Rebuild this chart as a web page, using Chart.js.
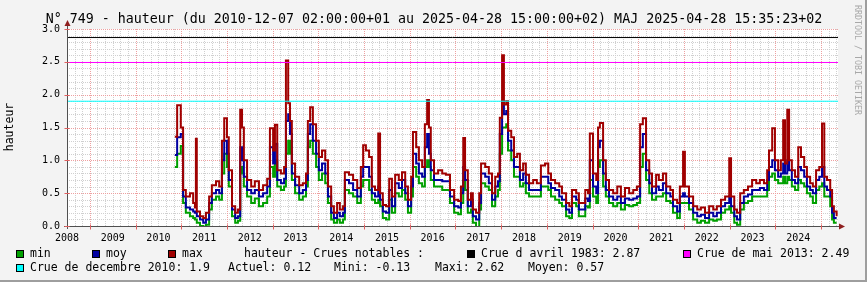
<!DOCTYPE html>
<html><head><meta charset="utf-8">
<script src="https://cdn.jsdelivr.net/npm/chart.js@4/dist/chart.umd.min.js"></script>
<style>html,body{margin:0;padding:0;background:#f3f3f3;overflow:hidden}canvas{display:block}</style>
</head><body>
<canvas id="c" width="867" height="282" style="width:867px;height:282px"></canvas>
<script>
// ---- data (decimal years) ----
const dates = [2010.36,2010.41,2010.49,2010.54,2010.60,2010.69,2010.76,2010.80,2010.82,2010.84,2010.91,2010.98,
2011.04,2011.11,2011.17,2011.26,2011.33,2011.39,2011.44,2011.50,2011.54,2011.61,2011.68,2011.74,2011.79,2011.83,2011.87,2011.94,
2012.03,2012.11,2012.20,2012.29,2012.38,2012.44,2012.51,2012.55,2012.60,2012.68,2012.75,2012.79,2012.84,2012.88,2012.92,2012.99,
2013.08,2013.16,2013.23,2013.27,2013.32,2013.38,2013.45,2013.51,2013.58,2013.65,2013.71,2013.78,2013.84,2013.91,2013.97,
2014.04,2014.08,2014.17,2014.26,2014.35,2014.43,2014.48,2014.54,2014.61,2014.67,2014.74,2014.81,2014.85,2014.91,2014.98,
2015.05,2015.11,2015.18,2015.26,2015.33,2015.40,2015.46,2015.53,2015.57,2015.64,2015.70,2015.77,2015.83,2015.88,2015.92,2015.96,
2016.03,2016.12,2016.21,2016.29,2016.38,2016.47,2016.56,2016.62,2016.67,2016.71,2016.77,2016.84,2016.88,2016.95,
2017.02,2017.06,2017.15,2017.23,2017.30,2017.37,2017.43,2017.47,2017.52,2017.56,2017.61,2017.65,2017.72,2017.78,2017.85,2017.91,2017.98,
2018.04,2018.11,2018.20,2018.28,2018.37,2018.46,2018.53,2018.59,2018.68,2018.77,2018.83,2018.92,2018.99,
2019.05,2019.14,2019.20,2019.27,2019.34,2019.40,2019.44,2019.51,2019.58,2019.62,2019.66,2019.73,2019.79,2019.86,2019.95,
2020.04,2020.12,2020.21,2020.30,2020.39,2020.47,2020.54,2020.60,2020.67,2020.74,2020.80,2020.89,2020.95,
2021.04,2021.11,2021.20,2021.26,2021.35,2021.41,2021.48,2021.52,2021.61,2021.70,2021.79,2021.87,2021.96,
2022.05,2022.14,2022.22,2022.31,2022.40,2022.49,2022.53,2022.60,2022.66,2022.73,2022.81,2022.90,2022.99,
2023.08,2023.16,2023.25,2023.32,2023.36,2023.43,2023.49,2023.56,2023.62,2023.67,2023.71,2023.76,2023.80,2023.86,2023.93,
2024.00,2024.06,2024.13,2024.19,2024.26,2024.32,2024.39,2024.46,2024.52,2024.57,2024.63,2024.70,2024.74,2024.78,2024.84];

const maxValues = [1.36,1.84,1.50,0.55,0.45,0.50,0.35,0.28,1.33,0.22,0.15,0.12,
0.20,0.45,0.62,0.68,0.60,1.30,1.64,1.35,0.85,0.30,0.20,0.25,1.77,1.50,1.00,0.70,
0.60,0.68,0.55,0.62,0.72,1.49,1.15,1.54,0.85,0.80,0.90,2.52,1.87,1.60,0.95,0.75,
0.62,0.65,0.80,1.60,1.81,1.55,1.30,1.05,1.15,1.00,0.60,0.30,0.20,0.35,0.25,
0.30,0.82,0.78,0.70,0.58,0.90,1.23,1.15,1.05,0.60,0.55,1.41,0.50,0.32,0.30,
0.72,0.45,0.78,0.70,0.82,0.60,0.40,0.75,1.43,1.20,1.00,0.90,1.55,1.92,1.50,1.00,
0.80,0.85,0.80,0.78,0.55,0.40,0.38,0.60,1.34,0.85,0.40,0.50,0.25,0.20,
0.50,0.95,0.90,0.80,0.50,0.75,0.80,1.65,2.60,1.85,1.90,1.45,1.35,1.05,1.10,0.85,0.95,
0.78,0.65,0.70,0.65,0.92,0.95,0.80,0.70,0.65,0.60,0.50,0.35,0.30,
0.55,0.50,0.35,0.35,0.55,0.50,1.41,0.80,0.70,1.50,1.57,1.00,0.70,0.55,0.50,
0.60,0.45,0.58,0.50,0.55,0.60,1.55,1.64,1.00,0.80,0.60,0.78,0.70,
0.80,0.60,0.55,0.40,0.35,0.60,1.13,0.60,0.45,0.30,0.25,0.28,0.20,
0.30,0.25,0.30,0.40,0.45,1.03,0.45,0.25,0.20,0.50,0.55,0.60,0.70,
0.65,0.70,0.65,0.85,1.15,1.49,1.00,0.85,1.00,1.61,0.95,1.77,1.00,0.85,0.75,
1.20,1.05,0.90,0.75,0.65,0.60,0.85,0.90,1.56,0.75,0.70,0.55,0.30,0.22,0.15];

const moyValues = [1.08,1.35,1.40,0.45,0.28,0.25,0.22,0.20,0.20,0.15,0.10,0.05,
0.10,0.35,0.50,0.55,0.50,1.00,1.30,1.10,0.70,0.25,0.12,0.15,1.20,1.00,0.75,0.55,
0.50,0.55,0.45,0.50,0.60,1.20,0.95,1.25,0.70,0.65,0.72,1.60,1.70,1.40,0.80,0.62,
0.50,0.55,0.70,1.40,1.55,1.30,1.10,0.85,0.95,0.80,0.45,0.20,0.12,0.20,0.15,
0.20,0.70,0.65,0.55,0.45,0.75,0.90,0.90,0.75,0.50,0.45,0.60,0.40,0.22,0.20,
0.55,0.30,0.65,0.58,0.70,0.50,0.30,0.60,1.10,0.95,0.80,0.75,1.20,1.40,1.10,0.85,
0.70,0.70,0.68,0.68,0.45,0.30,0.28,0.50,0.90,0.70,0.30,0.40,0.15,0.10,
0.35,0.80,0.75,0.65,0.40,0.60,0.68,1.40,1.90,1.70,1.75,1.30,1.15,0.90,0.90,0.70,0.80,
0.65,0.55,0.55,0.55,0.75,0.75,0.65,0.58,0.55,0.45,0.40,0.25,0.20,
0.45,0.40,0.25,0.25,0.42,0.38,1.00,0.60,0.50,1.20,1.30,0.80,0.55,0.45,0.40,
0.45,0.35,0.42,0.40,0.42,0.45,1.20,1.40,0.85,0.65,0.50,0.60,0.55,
0.65,0.50,0.45,0.30,0.22,0.45,0.50,0.45,0.35,0.20,0.15,0.17,0.12,
0.20,0.15,0.20,0.30,0.35,0.45,0.30,0.15,0.10,0.35,0.45,0.48,0.55,
0.55,0.58,0.55,0.70,0.90,1.00,0.85,0.75,0.80,0.95,0.80,1.00,0.85,0.70,0.65,
0.90,0.85,0.75,0.60,0.55,0.50,0.70,0.75,0.90,0.60,0.55,0.45,0.20,0.12,0.12];

const minValues = [0.90,1.10,1.22,0.35,0.20,0.15,0.12,0.10,0.10,0.05,0.00,-0.02,
0.02,0.25,0.40,0.45,0.40,0.80,1.10,0.90,0.60,0.15,0.05,0.08,0.90,0.80,0.60,0.45,
0.35,0.42,0.30,0.35,0.45,0.90,0.75,1.00,0.60,0.55,0.60,1.10,1.30,1.10,0.70,0.50,
0.40,0.45,0.60,1.20,1.30,1.10,0.90,0.70,0.80,0.65,0.35,0.10,0.05,0.10,0.05,
0.10,0.55,0.50,0.45,0.35,0.60,0.70,0.70,0.55,0.40,0.35,0.40,0.30,0.12,0.10,
0.40,0.20,0.50,0.45,0.55,0.40,0.20,0.45,0.90,0.75,0.65,0.60,0.90,1.00,0.90,0.70,
0.60,0.60,0.55,0.55,0.35,0.20,0.18,0.35,0.70,0.55,0.20,0.25,0.05,-0.05,
0.25,0.65,0.60,0.55,0.30,0.45,0.55,1.10,1.50,1.50,1.55,1.15,1.00,0.75,0.75,0.60,0.65,
0.50,0.45,0.45,0.45,0.60,0.60,0.55,0.45,0.40,0.35,0.30,0.15,0.12,
0.35,0.30,0.15,0.15,0.30,0.28,0.70,0.45,0.35,0.90,1.00,0.60,0.45,0.35,0.30,
0.35,0.25,0.32,0.30,0.32,0.35,0.90,1.10,0.70,0.50,0.40,0.45,0.45,
0.50,0.38,0.35,0.20,0.12,0.35,0.35,0.35,0.25,0.10,0.05,0.08,0.05,
0.10,0.08,0.10,0.20,0.25,0.30,0.20,0.05,0.02,0.25,0.35,0.38,0.45,
0.45,0.45,0.45,0.55,0.75,0.80,0.70,0.65,0.65,0.75,0.65,0.75,0.70,0.60,0.55,
0.70,0.65,0.60,0.50,0.45,0.35,0.55,0.60,0.65,0.45,0.45,0.30,0.10,0.05,0.05];

const yearTicks = [2008,2009,2010,2011,2012,2013,2014,2015,2016,2017,2018,2019,2020,2021,2022,2023,2024];
const yTicks = [0.0,0.5,1.0,1.5,2.0,2.5,3.0];
const crueNames = ['Crue d avril 1983','Crue de mai 2013','Crue de decembre 2010'];
const crueValues = [2.87,2.49,1.9];
const crueColors = ['#000000','#ff00ff','#00ffff'];
const seriesNames = ['min','moy','max'];
const statNames = ['Actuel','Mini','Maxi','Moyen'];
const statValues = ['0.12','-0.13','2.62','0.57'];

const X_MIN = 2008, X_MAX = 2024.87, Y_MIN = 0, Y_MAX = 3;
const MONO = '"DejaVu Sans Mono", monospace';

function pts(vals){ return dates.map((d,i)=>({x:d,y:vals[i]})); }

const datasets = [
  {label:'max', data:pts(maxValues), borderColor:'#a00000', order:1},
  {label:'moy', data:pts(moyValues), borderColor:'#0000a0', order:2},
  {label:'min', data:pts(minValues), borderColor:'#00a000', order:3}
].map(d=>Object.assign(d,{borderWidth:2,pointRadius:0,stepped:'before',tension:0,fill:false}));
crueValues.forEach((v,i)=>{
  datasets.push({label:crueNames[i], data:[{x:X_MIN,y:v},{x:X_MAX,y:v}], borderColor:crueColors[i],
    borderWidth:1, pointRadius:0, order:0, fill:false});
});

const rrdPlugin = {
  id:'rrd',
  beforeDraw(chart){
    const ctx = chart.ctx, a = chart.chartArea;
    const xs = chart.scales.x, ys = chart.scales.y;
    ctx.save();
    ctx.fillStyle = '#f3f3f3'; ctx.fillRect(0,0,867,282);
    ctx.fillStyle = '#9e9e9e'; ctx.fillRect(865,0,2,282); ctx.fillRect(0,280,867,2);
    ctx.fillStyle = '#ffffff'; ctx.fillRect(a.left,a.top,a.right-a.left,a.bottom-a.top);
    ctx.lineWidth = 1;
    ctx.setLineDash([1,1]);
    for(let k=1;k<30;k++){
      if(k%5===0) continue;
      const y = Math.round(ys.getPixelForValue(k/10))+0.5;
      ctx.strokeStyle = '#d0d0d0';
      ctx.beginPath(); ctx.moveTo(a.left,y); ctx.lineTo(a.right,y); ctx.stroke();
    }
    for(let k=1;(X_MIN+k/6)<X_MAX;k++){
      if(k%6===3) continue;
      const x = Math.round(xs.getPixelForValue(X_MIN+k/6))+0.5;
      ctx.strokeStyle = '#d0d0d0';
      ctx.beginPath(); ctx.moveTo(x,a.top); ctx.lineTo(x,a.bottom); ctx.stroke();
    }
    ctx.strokeStyle = '#eea0a0';
    yTicks.forEach(v=>{ if(v===0) return;
      const y = Math.round(ys.getPixelForValue(v))+0.5;
      ctx.beginPath(); ctx.moveTo(a.left,y); ctx.lineTo(a.right,y); ctx.stroke();
    });
    yearTicks.forEach(yr=>{
      const x = Math.round(xs.getPixelForValue(yr+0.5))+0.5;
      if(x>a.right) return;
      ctx.beginPath(); ctx.moveTo(x,a.top); ctx.lineTo(x,a.bottom); ctx.stroke();
    });
    ctx.restore();
  },
  afterDatasetsDraw(chart){
    const ctx = chart.ctx, a = chart.chartArea;
    const xs = chart.scales.x, ys = chart.scales.y;
    ctx.save();
    const x0 = Math.round(a.left)+0.5, y0 = Math.round(a.bottom)+0.5;
    ctx.strokeStyle = '#505050'; ctx.lineWidth = 1; ctx.setLineDash([]);
    ctx.beginPath(); ctx.moveTo(x0, a.bottom+3); ctx.lineTo(x0, a.top-5); ctx.stroke();
    ctx.beginPath(); ctx.moveTo(a.left-3, y0); ctx.lineTo(a.right+2, y0); ctx.stroke();
    ctx.strokeStyle = '#e06060';
    yearTicks.forEach(yr=>{
      const x = Math.round(xs.getPixelForValue(yr+0.5))+0.5;
      if(x>a.right) return;
      ctx.beginPath(); ctx.moveTo(x,y0-2); ctx.lineTo(x,y0+3); ctx.stroke();
    });
    yTicks.forEach(v=>{
      const y = Math.round(ys.getPixelForValue(v))+0.5;
      ctx.beginPath(); ctx.moveTo(x0-3,y); ctx.lineTo(x0+2,y); ctx.stroke();
    });
    ctx.fillStyle = '#8f1f1f';
    ctx.beginPath(); ctx.moveTo(x0-3,a.top-3); ctx.lineTo(x0+3,a.top-3); ctx.lineTo(x0,a.top-9); ctx.closePath(); ctx.fill();
    ctx.beginPath(); ctx.moveTo(a.right+1,y0-3); ctx.lineTo(a.right+1,y0+3); ctx.lineTo(a.right+7,y0); ctx.closePath(); ctx.fill();
    ctx.fillStyle = '#000';
    ctx.font = '10px ' + MONO;
    ctx.textBaseline = 'middle';
    ctx.textAlign = 'right';
    yTicks.forEach(v=>{ ctx.fillText(v.toFixed(1), 60, ys.getPixelForValue(v)); });
    ctx.textAlign = 'center';
    yearTicks.forEach(yr=>{ ctx.fillText(String(yr), xs.getPixelForValue(yr), 238); });
    ctx.font = '13.3px ' + MONO;
    ctx.fillText('N° 749 - hauteur (du 2010-12-07 02:00:00+01 au 2025-04-28 15:00:00+02) MAJ 2025-04-28 15:35:23+02', 434, 20);
    ctx.save(); ctx.translate(10.5,127); ctx.rotate(-Math.PI/2);
    ctx.font = '11.5px ' + MONO; ctx.textAlign='center'; ctx.fillText('hauteur',0,0); ctx.restore();
    ctx.save(); ctx.translate(857,5); ctx.rotate(Math.PI/2);
    ctx.font = '8.3px ' + MONO; ctx.textAlign='left'; ctx.fillStyle='#a8a8a8';
    ctx.fillText('RRDTOOL / TOBI OETIKER',0,0); ctx.restore();
    ctx.font = '11.5px ' + MONO; ctx.textAlign = 'left';
    const sq = (x,y,c)=>{ ctx.fillStyle=c; ctx.fillRect(x,y,8,8); ctx.strokeStyle='#000'; ctx.lineWidth=1; ctx.strokeRect(x+0.5,y+0.5,7,7); ctx.fillStyle='#000'; };
    const r1 = 254.5, r2 = 268.5;
    const serColors = ['#00a000','#0000a0','#a00000'];
    const serX = [16,92,168];
    seriesNames.forEach((n,i)=>{ sq(serX[i], r1-4.5, serColors[i]); ctx.fillText(n, serX[i]+14, r1); });
    ctx.fillText('hauteur - Crues notables :', 244, r1);
    sq(467, r1-4.5, crueColors[0]); ctx.fillText(crueNames[0]+': '+crueValues[0], 481, r1);
    sq(683, r1-4.5, crueColors[1]); ctx.fillText(crueNames[1]+': '+crueValues[1], 697, r1);
    sq(16, r2-4.5, crueColors[2]); ctx.fillText(crueNames[2]+': '+crueValues[2], 30, r2);
    const statX = [228,334,435,528];
    statNames.forEach((n,i)=>{ ctx.fillText(n+': '+statValues[i], statX[i], r2); });
    ctx.restore();
  }
};

new Chart(document.getElementById('c'), {
  type:'line',
  data:{datasets},
  options:{
    responsive:false, devicePixelRatio:1, animation:false,
    layout:{padding:{left:67,right:29,top:29,bottom:56}},
    plugins:{legend:{display:false},tooltip:{enabled:false},title:{display:false}},
    scales:{
      x:{type:'linear',min:X_MIN,max:X_MAX,display:false},
      y:{type:'linear',min:Y_MIN,max:Y_MAX,display:false}
    },
    elements:{line:{borderCapStyle:'butt',borderJoinStyle:'miter'}}
  },
  plugins:[rrdPlugin]
});
</script>
</body></html>
